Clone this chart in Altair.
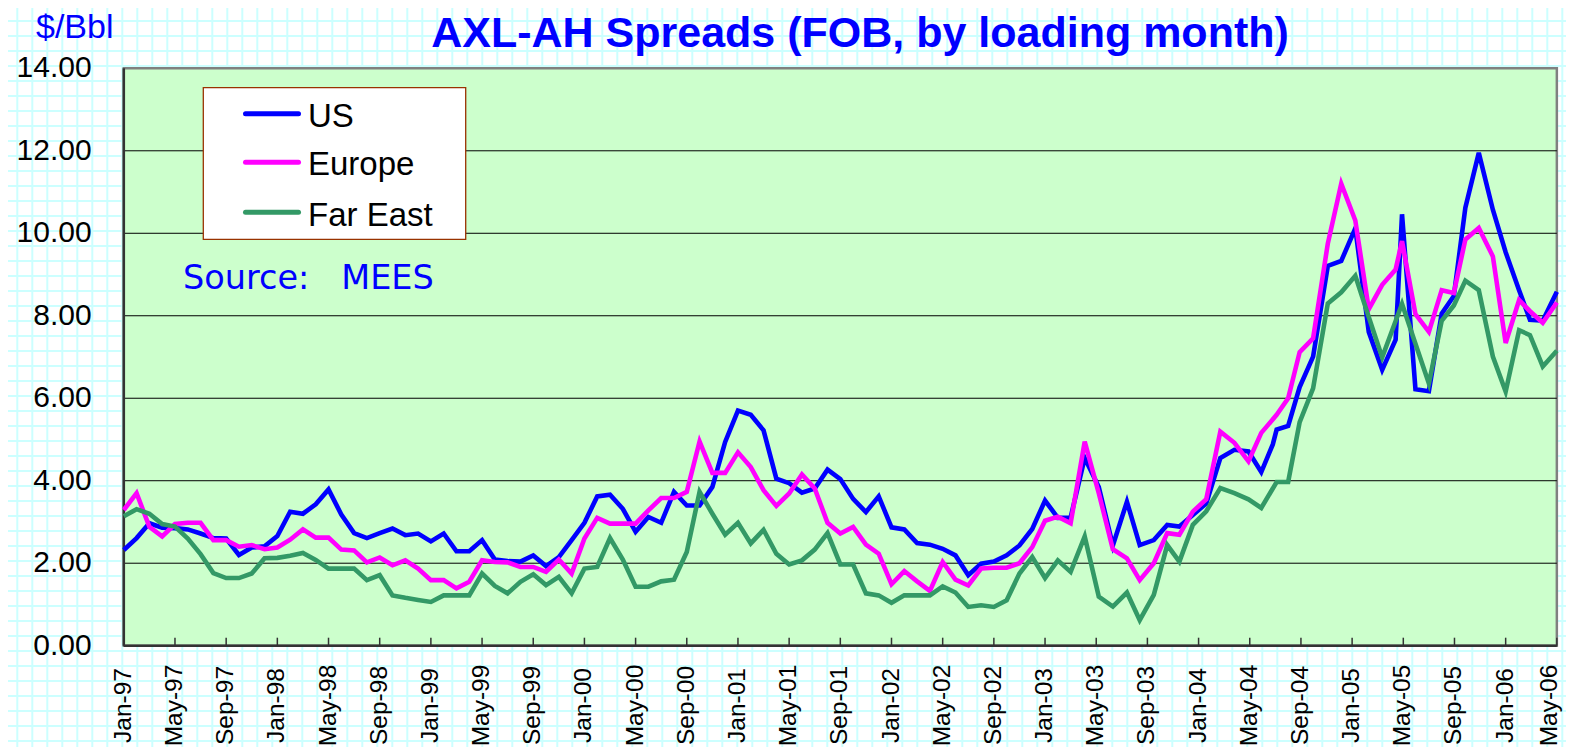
import altair as alt
import pandas as pd

# ---------------- data (month index: Jan-97 = 0) ----------------
SERIES = ["US", "Europe", "Far East"]
COLORS = ["#0000FF", "#FF00FF", "#339966"]

MONTHS_A = list(range(75))  # Jan-97 .. Mar-03, one point per loading month

US_A = [2.32, 2.61, 2.97, 2.86, 2.85, 2.82, 2.72, 2.61, 2.60, 2.20,
        2.38, 2.41, 2.66, 3.25, 3.20, 3.43, 3.79, 3.18, 2.73, 2.61,
        2.73, 2.84, 2.68, 2.72, 2.53, 2.72, 2.29, 2.29, 2.56, 2.09,
        2.05, 2.04, 2.19, 1.93, 2.15, 2.56, 2.98, 3.62, 3.66, 3.32,
        2.76, 3.12, 2.98, 3.73, 3.40, 3.40, 3.85, 4.94, 5.70, 5.60,
        5.22, 4.05, 3.94, 3.71, 3.81, 4.27, 4.04, 3.56, 3.24, 3.62,
        2.87, 2.82, 2.49, 2.45, 2.35, 2.19, 1.71, 1.99, 2.04, 2.19,
        2.43, 2.83, 3.52, 3.10, 3.11]

EU_A = [3.29, 3.70, 2.88, 2.65, 2.95, 2.98, 2.98, 2.56, 2.56, 2.40,
        2.44, 2.34, 2.38, 2.57, 2.82, 2.62, 2.62, 2.33, 2.31, 2.02,
        2.14, 1.95, 2.07, 1.87, 1.59, 1.59, 1.39, 1.55, 2.07, 2.03,
        2.02, 1.91, 1.91, 1.79, 2.09, 1.75, 2.60, 3.10, 2.96, 2.96,
        2.96, 3.28, 3.58, 3.58, 3.73, 4.95, 4.19, 4.19, 4.69, 4.33,
        3.77, 3.39, 3.69, 4.15, 3.81, 2.98, 2.72, 2.88, 2.45, 2.23,
        1.49, 1.81, 1.56, 1.33, 2.03, 1.60, 1.46, 1.87, 1.89, 1.89,
        2.00, 2.39, 3.03, 3.13, 2.97]

FE_A = [3.14, 3.31, 3.20, 2.95, 2.89, 2.60, 2.22, 1.76, 1.64, 1.64,
        1.75, 2.12, 2.13, 2.18, 2.25, 2.08, 1.87, 1.87, 1.87, 1.59,
        1.71, 1.22, 1.16, 1.11, 1.06, 1.22, 1.22, 1.22, 1.75, 1.45,
        1.27, 1.55, 1.73, 1.47, 1.67, 1.27, 1.87, 1.91, 2.61, 2.09,
        1.43, 1.43, 1.56, 1.60, 2.27, 3.73, 3.20, 2.69, 2.98, 2.48,
        2.81, 2.23, 1.97, 2.07, 2.33, 2.73, 1.97, 1.97, 1.27, 1.22,
        1.04, 1.22, 1.22, 1.22, 1.44, 1.29, 0.94, 0.98, 0.94, 1.10,
        1.75, 2.15, 1.64, 2.07, 1.79]

# Apr-03 .. May-06: observation dates as they fall on the date axis
MONTHS_B = [75.1, 76.2, 77.3, 78.4, 79.4, 80.5, 81.55, 82.5, 83.55, 84.6,
            85.7, 86.8, 87.9, 88.9, 89.8, 90.1, 91.0, 91.9, 92.95, 94.1,
            95.15, 96.25, 97.3, 98.35, 99.4, 99.9, 100.95, 102.0, 103.0, 103.95,
            104.85, 105.9, 107.0, 108.0, 109.05, 109.9, 110.9, 112.0]

US_B = [4.55, 3.85, 2.43, 3.49, 2.44, 2.56, 2.93, 2.89, 3.17, 3.45,
        4.55, 4.75, 4.71, 4.21, 4.88, 5.24, 5.33, 6.27, 7.01, 9.21,
        9.33, 10.12, 7.61, 6.69, 7.42, 10.46, 6.22, 6.17, 8.05, 8.48,
        10.62, 11.95, 10.57, 9.54, 8.62, 7.90, 7.88, 8.58]

EU_B = [4.95, 3.70, 2.34, 2.12, 1.59, 2.00, 2.73, 2.69, 3.25, 3.55,
        5.19, 4.92, 4.47, 5.16, None, 5.60, 6.00, 7.12, 7.45, 9.75,
        11.20, 10.31, 8.16, 8.75, 9.12, 9.81, 8.04, 7.61, 8.62, 8.55,
        9.85, 10.13, 9.44, 7.34, 8.38, 8.11, 7.83, 8.32]

FE_B = [2.65, 1.19, 0.95, 1.29, 0.62, 1.23, 2.44, 2.04, 2.93, 3.26,
        3.82, 3.70, 3.55, 3.34, None, 3.97, 3.97, 5.42, 6.24, 8.30,
        8.57, 8.97, 7.97, 6.99, None, 8.29, 7.32, 6.36, 7.88, 8.25,
        8.85, 8.62, 7.01, 6.16, 7.65, 7.53, 6.77, 7.15]

X_TICKS = list(range(0, 113, 4))
X_LABELS = ["Jan-97", "May-97", "Sep-97", "Jan-98", "May-98", "Sep-98",
            "Jan-99", "May-99", "Sep-99", "Jan-00", "May-00", "Sep-00",
            "Jan-01", "May-01", "Sep-01", "Jan-02", "May-02", "Sep-02",
            "Jan-03", "May-03", "Sep-03", "Jan-04", "May-04", "Sep-04",
            "Jan-05", "May-05", "Sep-05", "Jan-06", "May-06"]
Y_TICKS = [0, 2, 4, 6, 8, 10, 12, 14]
X_MAX = 112
Y_MAX = 14

# ---------------- layout (page pixels -> data units) ----------------
W, H = 1558, 739
PX0, PXM = 123.8, 12.795     # page x of Jan-97, pixels per month
PY0, PYV = 645.7, 41.243     # page y of 0.00, pixels per $/Bbl


def mx(px):
    return (px - PX0) / PXM


def vy(py):
    return (PY0 - py) / PYV


XS = alt.Scale(domain=[mx(8), mx(8 + W)], nice=False, zero=False)
YS = alt.Scale(domain=[vy(8 + H), vy(8)], nice=False, zero=False)


def X(f):
    return alt.X(f, type="quantitative", scale=XS, axis=None)


def Y(f):
    return alt.Y(f, type="quantitative", scale=YS, axis=None)


SANS = "Liberation Sans"
layers = []

# graph-paper background
gpx = [mx(2.3 + 15 * k) for k in range(110) if 8 < 2.3 + 15 * k < 8 + W]
gpy = [vy(6 + 15 * k) for k in range(55) if 8 < 6 + 15 * k < 8 + H]
layers.append(alt.Chart(pd.DataFrame({"gx": gpx})).mark_rule(
    color="#ccffff", strokeWidth=2).encode(x=X("gx"), y=alt.value(0), y2=alt.value(H)))
layers.append(alt.Chart(pd.DataFrame({"gy": gpy})).mark_rule(
    color="#ccffff", strokeWidth=2).encode(y=Y("gy"), x=alt.value(0), x2=alt.value(W)))

# plot area
layers.append(alt.Chart(pd.DataFrame({"x0": [0], "x1": [X_MAX], "y0": [0], "y1": [Y_MAX]}))
              .mark_rect(fill="#CCFFCC", stroke="#808080", strokeWidth=2.5)
              .encode(x=X("x0"), x2="x1", y=Y("y0"), y2="y1"))

# horizontal gridlines
layers.append(alt.Chart(pd.DataFrame({"gv": Y_TICKS[1:-1], "x0": 0, "x1": X_MAX}))
              .mark_rule(color="#000000", strokeWidth=1)
              .encode(y=Y("gv"), x=X("x0"), x2="x1"))

# axis lines
layers.append(alt.Chart(pd.DataFrame({"x": [0], "y0": [0], "y1": [Y_MAX]}))
              .mark_rule(color="#333333", strokeWidth=2.5)
              .encode(x=X("x"), y=Y("y0"), y2="y1"))
layers.append(alt.Chart(pd.DataFrame({"y": [0], "x0": [0], "x1": [X_MAX]}))
              .mark_rule(color="#333333", strokeWidth=2.5)
              .encode(y=Y("y"), x=X("x0"), x2="x1"))

# x ticks (inside)
layers.append(alt.Chart(pd.DataFrame({"m": X_TICKS, "y0": 0, "y1": 8 / PYV}))
              .mark_rule(color="#333333", strokeWidth=1.5)
              .encode(x=X("m"), y=Y("y0"), y2="y1"))

# series
for name, col, ma, va, mb, vb in [("US", COLORS[0], MONTHS_A, US_A, MONTHS_B, US_B),
                                  ("Europe", COLORS[1], MONTHS_A, EU_A, MONTHS_B, EU_B),
                                  ("Far East", COLORS[2], MONTHS_A, FE_A, MONTHS_B, FE_B)]:
    t = list(ma) + list(mb)
    v = list(va) + list(vb)
    df = pd.DataFrame({"t": t, "v": v}).dropna()
    layers.append(alt.Chart(df).mark_line(color=col, strokeWidth=4.6)
                  .encode(x=X("t"), y=Y("v")))

# legend box
layers.append(alt.Chart(pd.DataFrame({"x0": [mx(203.3)], "x1": [mx(465.7)],
                                      "y0": [vy(239.3)], "y1": [vy(87.7)]}))
              .mark_rect(fill="white", stroke="#993300", strokeWidth=1.3)
              .encode(x=X("x0"), x2="x1", y=Y("y0"), y2="y1"))
leg = pd.DataFrame({"name": SERIES,
                    "lx0": mx(245.5), "lx1": mx(298.5),
                    "ly": [vy(113.7), vy(162.3), vy(212.3)],
                    "tx": mx(308),
                    "ty": [vy(126.5), vy(175.0), vy(225.5)]})
cscale = alt.Scale(domain=SERIES, range=COLORS)
layers.append(alt.Chart(leg).mark_rule(strokeWidth=5, strokeCap="round")
              .encode(x=X("lx0"), x2="lx1", y=Y("ly"),
                      color=alt.Color("name:N", scale=cscale, legend=None)))
layers.append(alt.Chart(leg).mark_text(align="left", baseline="alphabetic", font=SANS,
                                       fontSize=33, color="black")
              .encode(x=X("tx"), y=Y("ty"), text="name:N"))

# axis labels
layers.append(alt.Chart(pd.DataFrame({"v": Y_TICKS, "x": mx(91.7)}))
              .mark_text(align="right", baseline="middle", font=SANS, fontSize=30, color="black")
              .encode(x=X("x"), y=Y("v"), text=alt.Text("v:Q", format=".2f")))
label_x = [min(m, mx(1550)) for m in X_TICKS]   # keep the last label inside the page
layers.append(alt.Chart(pd.DataFrame({"m": label_x, "lab": X_LABELS, "y": vy(705.5)}))
              .mark_text(angle=270, align="center", baseline="middle", font=SANS,
                         fontSize=24.5, color="black")
              .encode(x=X("m"), y=Y("y"), text="lab:N"))

# titles / notes
txt = pd.DataFrame({"x": [mx(860)], "y": [vy(47.2)], "s": ["AXL-AH Spreads (FOB, by loading month)"]})
layers.append(alt.Chart(txt).mark_text(align="center", baseline="alphabetic", font=SANS,
                                       fontSize=43, fontWeight="bold", color="#0000FF")
              .encode(x=X("x"), y=Y("y"), text="s:N"))
unit = pd.DataFrame({"x": [mx(36)], "y": [vy(38.3)], "s": ["$/Bbl"]})
layers.append(alt.Chart(unit).mark_text(align="left", baseline="alphabetic", font=SANS,
                                        fontSize=34, color="#0000FF")
              .encode(x=X("x"), y=Y("y"), text="s:N"))
src = pd.DataFrame({"x": [mx(183)], "y": [vy(289.3)], "s": ["Source:\u00a0\u00a0\u00a0MEES"]})
layers.append(alt.Chart(src).mark_text(align="left", baseline="alphabetic", font="DejaVu Sans",
                                       fontSize=33.5, color="#0000FF")
              .encode(x=X("x"), y=Y("y"), text="s:N"))

chart = alt.layer(*layers).properties(
    width=W, height=H, padding=0,
    autosize=alt.AutoSizeParams(type="none"),
    background="white",
).configure_view(stroke=None)

chart.save("out.html", embed_options={"renderer": "svg", "actions": False})
